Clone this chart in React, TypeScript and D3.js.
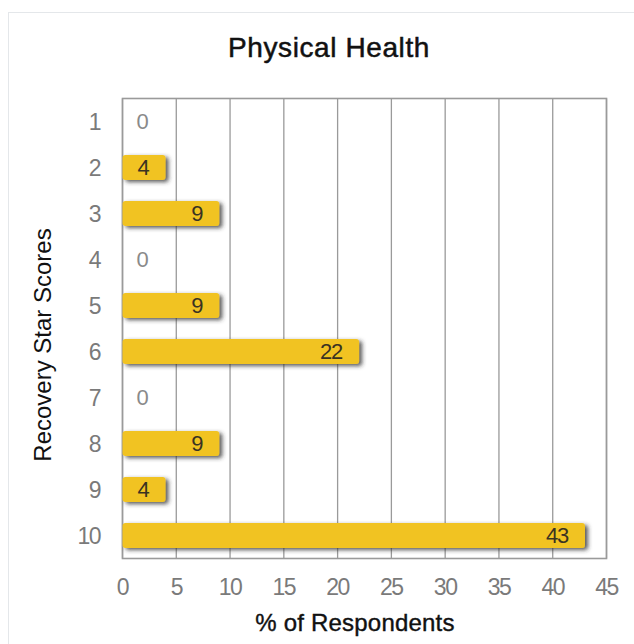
import React from "react";
import * as d3 from "d3";

// Recovery Star score distribution for the Physical Health domain
const scores = ["1", "2", "3", "4", "5", "6", "7", "8", "9", "10"];
const percents = [0, 4, 9, 0, 9, 22, 0, 9, 4, 43];
const xTicks = [0, 5, 10, 15, 20, 25, 30, 35, 40, 45];

const title = "Physical Health";
const xTitle = "% of Respondents";
const yTitle = "Recovery Star Scores";

const W = 634;
const H = 644;
const margin = { left: 122.5, right: 27.5, top: 98.5, bottom: 85.5 };
const FONT = "'Liberation Sans', Arial, sans-serif";

export default function App() {
  const x = d3
    .scaleLinear()
    .domain([0, 45])
    .range([margin.left, W - margin.right]);
  const y = d3
    .scaleBand<string>()
    .domain(scores)
    .range([margin.top, H - margin.bottom])
    .paddingInner(0.46)
    .paddingOuter(0.23);

  const data = scores.map((s, i) => ({ score: s, value: percents[i] }));
  const top = margin.top;
  const bottom = H - margin.bottom;

  return (
    <svg
      width={W}
      height={H}
      style={{ position: "absolute", left: 0, top: 0, background: "#fff" }}
    >
      <defs>
        <filter id="barShadow" x="-10%" y="-40%" width="130%" height="200%">
          <feDropShadow dx="3" dy="2" stdDeviation="2.3" floodColor="#333" floodOpacity="0.8" />
        </filter>
      </defs>

      {/* panel frame */}
      <rect x={8.5} y={12.5} width={700} height={700} fill="#fff" stroke="#e4e7ea" />

      <text
        x={329}
        y={57}
        textAnchor="middle"
        fontFamily={FONT}
        fontSize={28}
        letterSpacing={0.6}
        fill="#111"
        stroke="#111"
        strokeWidth={0.5}
      >
        {title}
      </text>

      {/* grid */}
      {xTicks.map((t) => (
        <line
          key={t}
          x1={x(t)}
          x2={x(t)}
          y1={top}
          y2={bottom}
          stroke="#9a9a9a"
          strokeWidth={1.3}
        />
      ))}
      <rect
        x={margin.left}
        y={top}
        width={x(45) - margin.left}
        height={bottom - top}
        fill="none"
        stroke="#9a9a9a"
        strokeWidth={1.6}
      />

      {/* bars */}
      {data.map((d) => {
        const by = y(d.score)!;
        const bh = y.bandwidth();
        const cy = by + bh / 2;
        if (d.value === 0) {
          return (
            <text
              key={d.score}
              x={x(0) + 14}
              y={cy}
              dy="0.36em"
              fontFamily={FONT}
              fontSize={22}
              letterSpacing={-1.2}
              fill="#8a8a8a"
            >
              {d.value}
            </text>
          );
        }
        return (
          <g key={d.score}>
            <rect
              x={x(0)}
              y={by}
              width={x(d.value) - x(0)}
              height={bh}
              rx={3}
              fill="#f1c324"
              filter="url(#barShadow)"
            />
            <text
              x={x(d.value) - 17}
              y={cy}
              dy="0.36em"
              textAnchor="end"
              fontFamily={FONT}
              fontSize={22}
              letterSpacing={-1.2}
              fill="#3a3322"
            >
              {d.value}
            </text>
          </g>
        );
      })}

      {/* y tick labels */}
      {scores.map((s) => (
        <text
          key={s}
          x={100}
          y={y(s)! + y.bandwidth() / 2}
          dy="0.36em"
          textAnchor="end"
          fontFamily={FONT}
          fontSize={23}
          letterSpacing={-1.5}
          fill="#7a7a7a"
        >
          {s}
        </text>
      ))}

      {/* x tick labels */}
      {xTicks.map((t) => (
        <text
          key={t}
          x={x(t)}
          y={595}
          textAnchor="middle"
          fontFamily={FONT}
          fontSize={23}
          letterSpacing={-1.5}
          fill="#7a7a7a"
        >
          {t}
        </text>
      ))}

      <text
        x={355}
        y={631}
        textAnchor="middle"
        fontFamily={FONT}
        fontSize={24}
        letterSpacing={0.2}
        fill="#111"
        stroke="#111"
        strokeWidth={0.4}
      >
        {xTitle}
      </text>
      <text
        transform={`translate(51, 345) rotate(-90)`}
        textAnchor="middle"
        fontFamily={FONT}
        fontSize={24}
        fill="#111"
      >
        {yTitle}
      </text>
    </svg>
  );
}
